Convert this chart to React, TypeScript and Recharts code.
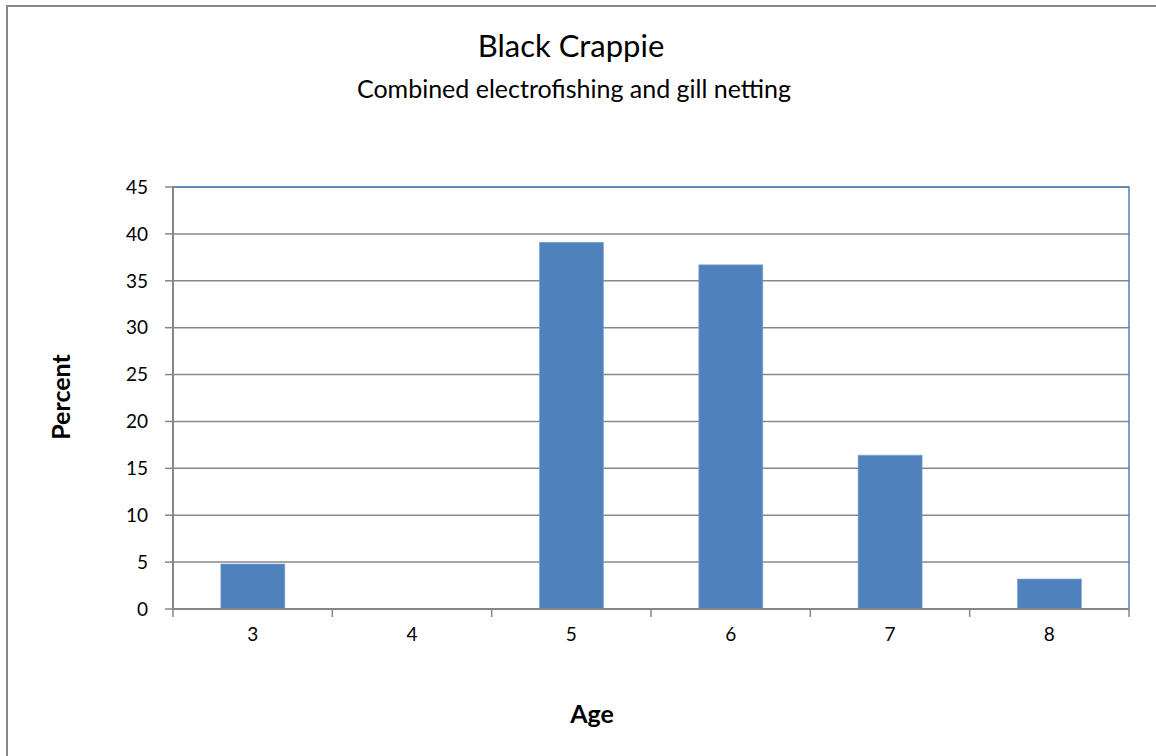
import { Bar, BarChart, CartesianGrid, ReferenceArea, XAxis, YAxis } from 'recharts';

// Age-frequency distribution, black crappie
const ages = ['3', '4', '5', '6', '7', '8'];
const percents = [4.8, 0, 39.1, 36.7, 16.4, 3.2];
const percentTicks = [0, 5, 10, 15, 20, 25, 30, 35, 40, 45];

const FONT = 'Lato, "Open Sans", sans-serif';
const AXIS_GRAY = '#878787';
const BAR_BLUE = '#4F81BD';
const TICK_LEN = 8;
const X_TICK_GAP = 11;

const chartData = ages.map((age, i) => ({ age, percent: percents[i] }));

// Category ticks sit on the boundaries between ages, labels in the middle
function AgeTick(props: any) {
  const { x, y, payload, index, visibleTicksCount } = props;
  const half = payload?.offset ?? 0;
  const axisY = y - TICK_LEN - X_TICK_GAP;
  const isLast = index === (visibleTicksCount ?? ages.length) - 1;
  return (
    <g>
      <line x1={x - half} y1={axisY} x2={x - half} y2={axisY + TICK_LEN} stroke={AXIS_GRAY} strokeWidth={1.5} />
      {isLast && (
        <line x1={x + half} y1={axisY} x2={x + half} y2={axisY + TICK_LEN} stroke={AXIS_GRAY} strokeWidth={1.5} />
      )}
      <text x={x} y={y} dy='0.71em' textAnchor='middle' fill='#000' fontSize={19} fontFamily={FONT}>
        {payload.value}
      </text>
    </g>
  );
}

export default function App() {
  return (
    <div
      style={{
        position: 'absolute',
        left: 0,
        top: 0,
        width: 1156,
        height: 756,
        overflow: 'hidden',
        background: '#fff',
        fontFamily: FONT,
      }}
    >
      {/* chart frame, runs off the page to the right and bottom */}
      <div
        style={{
          position: 'absolute',
          left: 6,
          top: 5,
          width: 1200,
          height: 800,
          border: `2px solid ${AXIS_GRAY}`,
          boxSizing: 'border-box',
        }}
      />
      <div style={{ position: 'absolute', left: 0, top: 0 }}>
        <BarChart
          width={1156}
          height={756}
          data={chartData}
          margin={{ top: 187, right: 27, bottom: 107, left: 113 }}
          barCategoryGap='30%'
        >
          <CartesianGrid horizontal vertical={false} stroke={AXIS_GRAY} strokeWidth={1.5} />
          <ReferenceArea y1={0} y2={45} fill='none' stroke={BAR_BLUE} strokeWidth={1.5} ifOverflow='visible' />
          <XAxis
            dataKey='age'
            height={40}
            axisLine={{ stroke: AXIS_GRAY, strokeWidth: 2 }}
            tickLine={false}
            tickSize={TICK_LEN}
            tickMargin={X_TICK_GAP}
            tick={<AgeTick />}
            interval={0}
          />
          <YAxis
            width={60}
            domain={[0, 45]}
            ticks={percentTicks}
            interval={0}
            axisLine={{ stroke: AXIS_GRAY, strokeWidth: 2 }}
            tickLine={{ stroke: AXIS_GRAY, strokeWidth: 1.5 }}
            tickSize={TICK_LEN}
            tickMargin={17}
            tick={{ fill: '#000', fontSize: 19, fontFamily: FONT }}
          />
          <Bar dataKey='percent' fill={BAR_BLUE} stroke='#7FA3D0' strokeWidth={0.6} isAnimationActive={false} />
        </BarChart>
      </div>
      <div
        style={{
          position: 'absolute',
          left: 571,
          top: 45,
          transform: 'translate(-50%, -50%)',
          fontSize: 31,
          color: '#000',
          whiteSpace: 'nowrap',
        }}
      >
        Black Crappie
      </div>
      <div
        style={{
          position: 'absolute',
          left: 574,
          top: 88,
          transform: 'translate(-50%, -50%)',
          fontSize: 25,
          color: '#000',
          whiteSpace: 'nowrap',
        }}
      >
        Combined electrofishing and gill netting
      </div>
      <div
        style={{
          position: 'absolute',
          left: 60,
          top: 397,
          transform: 'translate(-50%, -50%) rotate(-90deg)',
          fontSize: 25,
          fontWeight: 'bold',
          color: '#000',
          whiteSpace: 'nowrap',
        }}
      >
        Percent
      </div>
      <div
        style={{
          position: 'absolute',
          left: 592,
          top: 713,
          transform: 'translate(-50%, -50%)',
          fontSize: 25,
          fontWeight: 'bold',
          color: '#000',
        }}
      >
        Age
      </div>
    </div>
  );
}
